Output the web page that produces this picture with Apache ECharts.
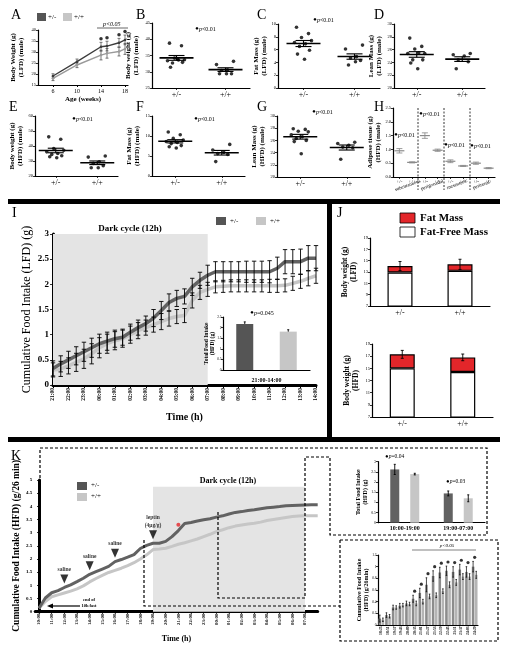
<!DOCTYPE html>
<html><head><meta charset="utf-8">
<script src="https://cdn.jsdelivr.net/npm/echarts@6/dist/echarts.min.js"></script>
<style>html,body{margin:0;padding:0;background:#fff}#c{width:510px;height:651px}</style>
</head><body><div id="c"></div>
<script>
// ================= DATA =================
const genotypes = ['+/-', '+/+'];
// A: body weight over age (LFD)
const aAges = [6, 10, 14, 15, 17, 18];
const aHet = [19.1, 25.6, 32.4, 32.7, 34.2, 35.5];
const aHetErr = [1.0, 1.2, 2.0, 2.2, 2.0, 2.2];
const aWt = [18.0, 24.1, 28.6, 29.4, 30.2, 31.4];
const aWtErr = [1.0, 1.2, 2.2, 2.2, 2.0, 2.5];
const aStarAges = [14, 15, 17, 18];
const aTicks = [6, 10, 14, 18];
// B-G: individual animals
const bHet = [38.8, 38.0, 34.2, 33.7, 33.4, 33.6, 32.7, 32.9, 31.4, 33.9];
const bWt = [33.2, 32.2, 30.6, 30.4, 29.4, 29.4, 29.4];
const cHet = [9.5, 8.5, 7.9, 7.4, 7.1, 6.9, 6.5, 5.9, 5.3, 4.5];
const cWt = [6.7, 6.1, 4.9, 4.7, 4.3, 3.6, 4.1];
const dHet = [27.8, 26.5, 26.1, 25.4, 25.4, 25.5, 24.4, 24.4, 23.9, 23.0];
const dWt = [25.4, 25.2, 25.0, 24.4, 24.1, 23.0];
const eHet = [46.1, 44.5, 38.3, 37.2, 36.1, 35.0, 34.4, 33.5, 32.8, 32.2];
const eWt = [33.3, 32.6, 29.5, 28.4, 26.9, 25.5, 25.5];
const fHet = [11.0, 10.3, 9.4, 9.0, 8.6, 8.4, 8.1, 7.6, 7.3, 7.0];
const fWt = [7.9, 6.5, 5.9, 5.6, 5.4, 3.6];
const gHet = [27.9, 27.8, 27.5, 27.4, 26.9, 26.6, 26.3, 26.0, 25.8, 23.8];
const gWt = [25.7, 25.5, 25.2, 24.9, 24.8, 22.9];
// H: adipose depots
const hCats = ['+/-', '+/+', '+/-', '+/+', '+/-', '+/+', '+/-', '+/+'];
const hGroups = ['subcutaneous', 'perigonadal', 'mesenteric', 'perirenal'];
const hMean = [0.95, 0.53, 1.50, 0.97, 0.57, 0.40, 0.50, 0.32];
const hSem = [0.08, 0.02, 0.10, 0.04, 0.05, 0.02, 0.04, 0.02];
// I: cumulative LFD intake
const iTimes = ["21:00","21:30","22:00","22:30","23:00","23:30","00:00","00:30","01:00","01:30","02:00","02:30","03:00","03:30","04:00","04:30","05:00","05:30","06:00","06:30","07:00","07:30","08:00","08:30","09:00","09:30","10:00","10:30","11:00","11:30","12:00","12:30","13:00","13:30","14:00"];
const iHet = [0.33,0.42,0.50,0.58,0.66,0.74,0.82,0.87,0.92,0.95,1.05,1.14,1.22,1.33,1.48,1.64,1.72,1.76,1.95,2.08,2.18,2.25,2.25,2.25,2.25,2.25,2.25,2.25,2.25,2.32,2.45,2.45,2.45,2.52,2.52];
const iHetErr = [0.15,0.16,0.17,0.18,0.19,0.19,0.19,0.18,0.17,0.16,0.16,0.15,0.15,0.17,0.18,0.17,0.16,0.15,0.17,0.16,0.2,0.2,0.2,0.2,0.2,0.21,0.21,0.21,0.22,0.22,0.24,0.24,0.25,0.25,0.25];
const iWt = [0.30,0.32,0.38,0.45,0.52,0.62,0.74,0.82,0.88,0.92,1.00,1.08,1.14,1.20,1.26,1.32,1.36,1.38,1.68,1.84,1.90,1.95,1.96,1.97,1.97,1.97,1.97,1.97,1.97,1.97,1.98,2.02,2.06,2.12,2.17];
const iWtErr = [0.14,0.15,0.16,0.18,0.19,0.2,0.2,0.19,0.18,0.17,0.17,0.16,0.15,0.15,0.16,0.15,0.14,0.14,0.15,0.14,0.14,0.12,0.12,0.12,0.12,0.12,0.12,0.12,0.13,0.13,0.13,0.14,0.14,0.15,0.15];
const iDark = ['21:00', '07:00'];
const iTotal = [2.17, 1.81];
const iTotalErr = [0.10, 0.09];
// J: body composition
const jLfdLean = [12.9, 13.2];
const jLfdFat = [1.15, 1.15];
const jLfdErr = [0.8, 0.9];
const jHfdLean = [15.0, 14.4];
const jHfdFat = [2.3, 2.4];
const jHfdErr = [0.65, 0.55];
// K: HFD intake after fast (hours after 10:00)
const kHours = [0,0.5,1,1.5,2,2.5,3,3.5,4,4.5,5,5.5,6,6.5,7,7.5,8,8.5,9,9.5,10,10.5,11,11.5,12,12.5,13,13.5,14,14.5,15,15.5,16,16.5,17,17.5,18,18.5,19,19.5,20,20.5,21,21.5,22];
const kHet = [0.13,0.52,0.72,0.80,0.92,1.02,1.14,1.27,1.42,1.52,1.62,1.72,1.90,1.98,2.07,2.17,2.40,2.52,2.60,2.60,2.67,2.85,3.08,3.35,3.39,3.44,3.49,3.53,3.59,3.64,3.71,3.77,3.80,3.84,3.87,3.91,3.95,3.97,3.99,4.02,4.03,4.04,4.05,4.06,4.06];
const kWt = [0.13,0.39,0.57,0.64,0.71,0.78,0.87,0.98,1.13,1.26,1.38,1.49,1.57,1.65,1.75,1.86,2.00,2.16,2.36,2.38,2.41,2.48,2.56,2.62,2.69,2.76,2.85,2.94,3.04,3.11,3.19,3.25,3.29,3.33,3.36,3.40,3.46,3.50,3.54,3.58,3.61,3.63,3.64,3.64,3.64];
const kTickHours = [0,1,2,3,4,5,6,7,8,9,10,11,12,13,14,15,16,17,18,19,20,21];
const kDark = [9, 21];
const kInjHours = [2, 4, 6, 9];
const kInjLabels = ['saline', 'saline', 'saline', 'leptin\n(4μg/g)'];
const kStarHour = 11;
const k1Cats = ['10:00-19:00', '19:00-07:00'];
const k1Het = [2.62, 1.44];
const k1HetErr = [0.25, 0.12];
const k1Wt = [2.39, 1.20];
const k1WtErr = [0.04, 0.17];
const k2Times = ['18:25','18:51','19:17','19:43','20:09','20:35','21:01','21:27','21:53','22:19','22:45','23:11','23:37','24:03','24:29'];
const k2Het = [0.11,0.17,0.30,0.33,0.37,0.45,0.55,0.69,0.84,0.90,0.93,0.91,0.95,0.91,1.00];
const k2HetErr = [0.06,0.04,0.04,0.04,0.04,0.06,0.08,0.12,0.09,0.09,0.08,0.09,0.09,0.09,0.09];
const k2Wt = [0.09,0.15,0.30,0.34,0.36,0.37,0.40,0.49,0.51,0.58,0.69,0.73,0.83,0.83,0.86];
const k2WtErr = [0.03,0.03,0.03,0.03,0.03,0.04,0.04,0.04,0.04,0.04,0.05,0.05,0.05,0.05,0.06];
const k2StarFrom = 5;

// ================= STYLE / BUILD =================
const SERIF = 'Liberation Serif';
const HET = '#626262', WT = '#c6c6c6', RED = '#e3262a', SHADE = '#e4e4e4';
const JIT = [-7, 5, -2, 8, -9, 2, -4, 6, -6, 1];
const grids = [], xAxes = [], yAxes = [], series = [], G = [];

function addGrid(rect, xa, ya) {
  const i = grids.length;
  grids.push(Object.assign({outerBoundsMode: 'none', containLabel: false}, rect));
  xa.gridIndex = i; ya.gridIndex = i;
  xa.nameMoveOverlap = false; ya.nameMoveOverlap = false;
  xAxes.push(xa); yAxes.push(ya);
  return i;
}
function yVal(min, max, interval, name, o = {}) {
  return {type: 'value', min, max, interval, name, nameLocation: 'middle', nameGap: o.nameGap || 14,
    nameTextStyle: {fontFamily: SERIF, fontSize: o.nameSize || 7, fontWeight: 'bold', color: '#000', lineHeight: (o.nameSize || 7) + 1},
    axisLine: {show: true, lineStyle: {color: '#000', width: o.lw || 1.2}},
    axisTick: {show: true, length: o.tickLen || 2, lineStyle: {color: '#000', width: 0.8}},
    axisLabel: Object.assign({fontSize: o.labelSize || 4.5, color: '#000', margin: o.labelMargin || 2, fontFamily: SERIF, fontWeight: o.labelBold ? 'bold' : 'normal'}, o.labelExtra || {}),
    splitLine: {show: false}};
}
function xCat(data, o = {}) {
  return Object.assign({type: 'category', data, boundaryGap: o.boundaryGap !== undefined ? o.boundaryGap : true,
    axisLine: {show: true, lineStyle: {color: '#000', width: o.lw || 1.2}},
    axisTick: {show: o.tick !== undefined ? o.tick : true, alignWithLabel: true, length: 2, lineStyle: {color: '#000', width: 0.8}},
    axisLabel: Object.assign({fontSize: o.labelSize || 8, color: '#000', fontFamily: SERIF, margin: o.labelMargin || 3}, o.labelExtra || {}),
    splitLine: {show: false}}, o.extra || {});
}
function mean(a) { return a.reduce((s, v) => s + v, 0) / a.length; }
function sem(a) { const m = mean(a); return Math.sqrt(a.reduce((s, v) => s + (v - m) * (v - m), 0) / (a.length - 1)) / Math.sqrt(a.length); }

function errRender(cap, color, lw, dx) {
  return function (params, api) {
    const x = api.value(0), y = api.value(1), e = api.value(2);
    const t = api.coord([x, y + e]), b = api.coord([x, y - e]);
    const px = t[0] + (dx || 0);
    const st = {stroke: color, lineWidth: lw};
    return {type: 'group', children: [
      {type: 'line', shape: {x1: px, y1: t[1], x2: px, y2: b[1]}, style: st},
      {type: 'line', shape: {x1: px - cap, y1: t[1], x2: px + cap, y2: t[1]}, style: st},
      {type: 'line', shape: {x1: px - cap, y1: b[1], x2: px + cap, y2: b[1]}, style: st}
    ]};
  };
}
function meanGlyph(halfW, cap, color, lw) {
  return function (params, api) {
    const x = api.value(0), m = api.value(1), s = api.value(2);
    const c = api.coord([x, m]), t = api.coord([x, m + s]), b = api.coord([x, m - s]);
    const st = {stroke: color, lineWidth: lw};
    return {type: 'group', children: [
      {type: 'line', shape: {x1: c[0] - halfW, y1: c[1], x2: c[0] + halfW, y2: c[1]}, style: st},
      {type: 'line', shape: {x1: c[0] - cap, y1: t[1], x2: c[0] + cap, y2: t[1]}, style: {stroke: color, lineWidth: lw * 0.7}},
      {type: 'line', shape: {x1: c[0] - cap, y1: b[1], x2: c[0] + cap, y2: b[1]}, style: {stroke: color, lineWidth: lw * 0.7}},
      {type: 'line', shape: {x1: c[0], y1: t[1], x2: c[0], y2: b[1]}, style: {stroke: color, lineWidth: lw * 0.7}}
    ]};
  };
}
function dotPanel(rect, min, max, interval, name, het, wt, nameGap) {
  const g = addGrid(rect, xCat(genotypes), yVal(min, max, interval, name, {nameGap: nameGap || 14}));
  const pts = het.map((v, i) => ({value: [0, v], symbolOffset: [JIT[i % JIT.length], 0]}))
    .concat(wt.map((v, i) => ({value: [1, v], symbolOffset: [JIT[(i + 3) % JIT.length], 0]})));
  series.push({type: 'scatter', xAxisIndex: g, yAxisIndex: g, symbolSize: 3.6, itemStyle: {color: '#000'}, data: pts, silent: true});
  series.push({type: 'custom', xAxisIndex: g, yAxisIndex: g, renderItem: meanGlyph(17, 8, '#000', 1.6),
    encode: {x: 0, y: 1}, data: [[0, mean(het), sem(het)], [1, mean(wt), sem(wt)]], silent: true});
  return g;
}
function txt(x, y, t, size, o = {}) {
  G.push({type: 'text', x, y, rotation: o.rot || 0, z: 100, silent: true,
    style: {text: t, fontFamily: SERIF, fontSize: size, fontWeight: o.bold ? 'bold' : 'normal', fontStyle: o.italic ? 'italic' : 'normal',
      fill: o.color || '#000', textAlign: o.align || 'left', textVerticalAlign: o.va || 'middle', lineHeight: o.lh || size + 1}});
}
function ptxt(x, y, s, size) {
  G.push({type: 'text', x, y, z: 100, silent: true, style: {text: '{b|•}{i|p}{n|' + s + '}', fontFamily: SERIF, fontSize: size, fill: '#000', textVerticalAlign: 'middle',
    rich: {b: {fontSize: size * 1.9, fontFamily: SERIF, fill: '#000'}, i: {fontStyle: 'italic', fontSize: size, fontFamily: SERIF, fill: '#000'}, n: {fontSize: size, fontFamily: SERIF, fill: '#000'}}}});
}
function rect(x, y, w, h, fill, stroke, lw) {
  G.push({type: 'rect', z: 100, silent: true, shape: {x, y, width: w, height: h}, style: {fill, stroke: stroke || null, lineWidth: lw || 1}});
}
function line(x1, y1, x2, y2, lw, dash) {
  G.push({type: 'line', z: 100, silent: true, shape: {x1, y1, x2, y2}, style: {stroke: '#000', lineWidth: lw || 1, lineDash: dash || null}});
}
function poly(points, lw, dash) {
  G.push({type: 'polyline', z: 100, silent: true, shape: {points}, style: {stroke: '#000', fill: null, lineWidth: lw || 1, lineDash: dash || null}});
}

// ---------- Panel A ----------
(function () {
  const xa = {type: 'value', min: 3.5, max: 18.5, name: 'Age (weeks)', nameLocation: 'middle', nameGap: 11,
    nameTextStyle: {fontFamily: SERIF, fontSize: 7, fontWeight: 'bold', color: '#000'},
    axisLine: {lineStyle: {color: '#000', width: 1.2}}, splitLine: {show: false},
    axisTick: {customValues: aTicks, length: 2, lineStyle: {color: '#000'}},
    axisLabel: {customValues: aTicks, fontSize: 6, color: '#000', fontFamily: SERIF, margin: 3}};
  const g = addGrid({left: 38, top: 30, width: 90, height: 55}, xa, yVal(15, 40, 5, 'Body Weight (g)\n(LFD) (male)', {nameGap: 13}));
  series.push({type: 'line', xAxisIndex: g, yAxisIndex: g, data: aAges.map((a, i) => [a, aWt[i]]), symbol: 'circle', symbolSize: 2.5,
    lineStyle: {color: '#9a9a9a', width: 1.4}, itemStyle: {color: '#9a9a9a'}, silent: true});
  series.push({type: 'line', xAxisIndex: g, yAxisIndex: g, data: aAges.map((a, i) => [a, aHet[i]]), symbol: 'circle', symbolSize: 2.5,
    lineStyle: {color: '#3c3c3c', width: 1.4}, itemStyle: {color: '#3c3c3c'}, silent: true});
  series.push({type: 'custom', xAxisIndex: g, yAxisIndex: g, renderItem: errRender(1.5, '#444', 0.7), encode: {x: 0, y: 1},
    data: aAges.map((a, i) => [a, aWt[i], aWtErr[i]]).concat(aAges.map((a, i) => [a, aHet[i], aHetErr[i]])), silent: true});
  series.push({type: 'scatter', xAxisIndex: g, yAxisIndex: g, symbolSize: 3.5, itemStyle: {color: '#000'}, silent: true,
    data: aStarAges.map(a => { const i = aAges.indexOf(a); return [a, aHet[i] + aHetErr[i] + 1.6]; })});
})();
dotPanel({left: 152, top: 23, width: 98, height: 65}, 25, 45, 5, 'Body weight (g)\n(LFD) (male)', bHet, bWt, 12);
dotPanel({left: 278, top: 24, width: 102, height: 64}, 0, 10, 2, 'Fat Mass (g)\n(LFD) (male)', cHet, cWt, 10);
dotPanel({left: 394, top: 24, width: 91, height: 64}, 20, 30, 2, 'Lean Mass (g)\n(LFD) (male)', dHet, dWt, 11);
dotPanel({left: 35, top: 116, width: 83, height: 60}, 20, 60, 10, 'Body weight (g)\n(HFD) (male)', eHet, eWt, 11);
dotPanel({left: 152, top: 116, width: 93, height: 60}, 0, 15, 5, 'Fat Mass (g)\n(HFD) (male)', fHet, fWt, 11);
dotPanel({left: 277, top: 116, width: 93, height: 61}, 20, 30, 2, 'Lean Mass (g)\n(HFD) (male)', gHet, gWt, 11);

// ---------- Panel H ----------
(function () {
  const g = addGrid({left: 393, top: 108, width: 102, height: 69}, xCat(hCats, {labelSize: 5, labelMargin: 2}),
    yVal(0, 2.5, 0.5, 'Adipose tissue (g)\n(HFD) (male)', {nameGap: 11, labelExtra: {formatter: v => v.toFixed(1)}}));
  series.push({type: 'custom', xAxisIndex: g, yAxisIndex: g, renderItem: meanGlyph(5, 3, '#8a8a8a', 1.2), encode: {x: 0, y: 1},
    data: hMean.map((m, i) => [i, m, hSem[i]]), silent: true});
})();

// ---------- Panel I ----------
(function () {
  const xa = xCat(iTimes, {boundaryGap: false, lw: 3, labelSize: 5.5,
    labelExtra: {rotate: 90, interval: 1, fontWeight: 'bold', margin: 3},
    extra: {name: 'Time (h)', nameLocation: 'middle', nameGap: 27, nameTextStyle: {fontFamily: SERIF, fontSize: 10, fontWeight: 'bold', color: '#000'}}});
  xa.axisTick = {show: true, interval: 1, length: 3, lineStyle: {color: '#000', width: 1}};
  const ya = yVal(0, 3, 0.5, 'Cumulative Food Intake (LFD) (g)', {nameGap: 20, nameSize: 12, lw: 3, labelSize: 9, labelBold: true, tickLen: 3, labelMargin: 4});
  ya.nameTextStyle.fontWeight = 'normal';
  const g = addGrid({left: 53, top: 234, width: 263, height: 151}, xa, ya);
  series.push({type: 'line', xAxisIndex: g, yAxisIndex: g, data: iWt, symbol: 'none', lineStyle: {color: WT, width: 3.5}, silent: true, z: 3,
    markArea: {silent: true, itemStyle: {color: SHADE}, data: [[{xAxis: iDark[0]}, {xAxis: iDark[1]}]]}});
  series.push({type: 'line', xAxisIndex: g, yAxisIndex: g, data: iHet, symbol: 'none', lineStyle: {color: HET, width: 3.5}, silent: true, z: 3});
  series.push({type: 'custom', xAxisIndex: g, yAxisIndex: g, renderItem: errRender(2.2, '#000', 0.9), encode: {x: 0, y: 1}, z: 4,
    data: iWt.map((v, i) => [i, v, iWtErr[i]]).concat(iHet.map((v, i) => [i, v, iHetErr[i]])), silent: true});
  // inset
  const xa2 = xCat(genotypes, {tick: false, labelExtra: {show: false},
    extra: {z: 10, name: '21:00-14:00', nameLocation: 'middle', nameGap: 7, nameTextStyle: {fontFamily: SERIF, fontSize: 6, fontWeight: 'bold', color: '#000'}}});
  const ya2 = yVal(0, 2.5, 0.5, 'Total Food Intake\n(HFD) (g)', {nameGap: 7, nameSize: 5.5, labelSize: 3.5, labelMargin: 1.5});
  ya2.z = 10;
  const g2 = addGrid({left: 223, top: 317, width: 87, height: 53}, xa2, ya2);
  series.push({type: 'bar', xAxisIndex: g2, yAxisIndex: g2, barWidth: 17, silent: true,
    data: iTotal.map((v, i) => ({value: v, itemStyle: {color: i === 0 ? '#555' : WT}}))});
  series.push({type: 'custom', xAxisIndex: g2, yAxisIndex: g2, renderItem: errRender(1, '#000', 0.9), encode: {x: 0, y: 1},
    data: iTotal.map((v, i) => [i, v, iTotalErr[i]]), silent: true});
})();

// ---------- Panel J ----------
function jPanel(rect, lean, fat, err, name) {
  const xa = xCat(genotypes, {tick: false, labelSize: 8, labelMargin: 3});
  const g = addGrid(rect, xa, yVal(7, 19, 2, name, {nameGap: 12, nameSize: 7.5, labelSize: 4.5}));
  series.push({type: 'bar', xAxisIndex: g, yAxisIndex: g, stack: 'j' + g, barWidth: 25, data: lean, silent: true,
    itemStyle: {color: '#fff', borderColor: '#000', borderWidth: 1.2}});
  series.push({type: 'bar', xAxisIndex: g, yAxisIndex: g, stack: 'j' + g, barWidth: 25, data: fat, silent: true,
    itemStyle: {color: RED, borderColor: '#000', borderWidth: 1.2}});
  series.push({type: 'custom', xAxisIndex: g, yAxisIndex: g, renderItem: errRender(1.5, '#000', 0.9), encode: {x: 0, y: 1},
    data: lean.map((v, i) => [i, v + fat[i], err[i]]), silent: true, z: 5});
}
jPanel({left: 370, top: 238, width: 120, height: 68}, jLfdLean, jLfdFat, jLfdErr, 'Body weight (g)\n(LFD)');
jPanel({left: 372, top: 344, width: 121, height: 73}, jHfdLean, jHfdFat, jHfdErr, 'Body weight (g)\n(HFD)');

// ---------- Panel K ----------
const clock = h => { const hh = (10 + h) % 24; return (hh < 10 ? '0' : '') + hh + ':00'; };
(function () {
  const xa = {type: 'value', min: -0.3, max: 22, name: 'Time (h)', nameLocation: 'middle', nameGap: 23,
    nameTextStyle: {fontFamily: SERIF, fontSize: 8, fontWeight: 'bold', color: '#000'},
    axisLine: {lineStyle: {color: '#000', width: 3}}, splitLine: {show: false},
    axisTick: {customValues: kTickHours, length: 2, lineStyle: {color: '#000'}},
    axisLabel: {customValues: kTickHours, formatter: clock, rotate: 90, fontSize: 4.8, fontWeight: 'bold', color: '#000', fontFamily: SERIF, margin: 2}};
  const ya = yVal(0, 5, 0.5, 'Cumulative Food Intake (HFD) (g/26 min)', {nameGap: 13, nameSize: 9.5, lw: 3, labelSize: 5, labelBold: true, labelMargin: 3});
  const g = addGrid({left: 35.2, top: 480, width: 282.5, height: 131.7}, xa, ya);
  series.push({type: 'line', xAxisIndex: g, yAxisIndex: g, data: kHours.map((h, i) => [h, kWt[i]]), symbol: 'none', lineStyle: {color: WT, width: 3}, silent: true,
    markArea: {silent: true, itemStyle: {color: SHADE}, data: [[{xAxis: kDark[0], yAxis: 0}, {xAxis: kDark[1], yAxis: 4.74}]]}});
  series.push({type: 'line', xAxisIndex: g, yAxisIndex: g, data: kHours.map((h, i) => [h, kHet[i]]), symbol: 'none', lineStyle: {color: HET, width: 3}, silent: true});
  series.push({type: 'scatter', xAxisIndex: g, yAxisIndex: g, symbol: 'triangle', symbolRotate: 180, symbolSize: [8, 9], itemStyle: {color: '#000'}, silent: true,
    data: kInjHours.map((h, j) => ({value: [h, kHet[kHours.indexOf(h)] + 0.32],
      label: {show: true, position: 'top', distance: 1, formatter: kInjLabels[j], fontFamily: SERIF, fontSize: 5.5, fontWeight: 'bold', color: '#000', lineHeight: 8}}))});
  series.push({type: 'scatter', xAxisIndex: g, yAxisIndex: g, symbolSize: 4, itemStyle: {color: RED}, silent: true,
    data: [[kStarHour, kHet[kHours.indexOf(kStarHour)] + 0.22]]});
  // inset 1
  const g1 = addGrid({left: 378, top: 461.7, width: 107, height: 61}, xCat(k1Cats, {tick: false, labelSize: 6, labelMargin: 3, labelExtra: {fontWeight: 'bold'}}),
    yVal(0, 3, 0.5, 'Total Food Intake\n(HFD) (g)', {nameGap: 9, nameSize: 6, labelSize: 3.8}));
  series.push({type: 'bar', xAxisIndex: g1, yAxisIndex: g1, barWidth: 9, barGap: '122%', data: k1Het, itemStyle: {color: HET}, silent: true});
  series.push({type: 'bar', xAxisIndex: g1, yAxisIndex: g1, barWidth: 9, barGap: '122%', data: k1Wt, itemStyle: {color: WT}, silent: true});
  series.push({type: 'custom', xAxisIndex: g1, yAxisIndex: g1, renderItem: errRender(1, '#000', 0.9, -10), encode: {x: 0, y: 1},
    data: k1Het.map((v, i) => [i, v, k1HetErr[i]]), silent: true, z: 5});
  series.push({type: 'custom', xAxisIndex: g1, yAxisIndex: g1, renderItem: errRender(1, '#000', 0.9, 10), encode: {x: 0, y: 1},
    data: k1Wt.map((v, i) => [i, v, k1WtErr[i]]), silent: true, z: 5});
  // inset 2
  const g2 = addGrid({left: 378, top: 555, width: 100, height: 70}, xCat(k2Times, {tick: false, labelSize: 3.6, labelMargin: 1.5, labelExtra: {rotate: 90, interval: 0, fontWeight: 'bold'}}),
    yVal(0, 1.2, 0.2, 'Cumulative Food Intake\n(HFD) (g/26min)', {nameGap: 8, nameSize: 6, labelSize: 3.5, labelMargin: 1.5, labelExtra: {formatter: v => (Math.round(v * 10) / 10).toString()}}));
  series.push({type: 'bar', xAxisIndex: g2, yAxisIndex: g2, barWidth: 2.6, barGap: '20%', data: k2Het, itemStyle: {color: '#8c8c8c'}, silent: true});
  series.push({type: 'bar', xAxisIndex: g2, yAxisIndex: g2, barWidth: 2.6, barGap: '20%', data: k2Wt, itemStyle: {color: '#b4b4b4'}, silent: true});
  series.push({type: 'custom', xAxisIndex: g2, yAxisIndex: g2, renderItem: errRender(0.8, '#000', 0.7, -1.56), encode: {x: 0, y: 1},
    data: k2Het.map((v, i) => [i, v, k2HetErr[i]]), silent: true, z: 5});
  series.push({type: 'custom', xAxisIndex: g2, yAxisIndex: g2, renderItem: errRender(0.8, '#000', 0.7, 1.56), encode: {x: 0, y: 1},
    data: k2Wt.map((v, i) => [i, v, k2WtErr[i]]), silent: true, z: 5});
  series.push({type: 'scatter', xAxisIndex: g2, yAxisIndex: g2, symbolSize: 3.2, itemStyle: {color: '#000'}, silent: true,
    data: k2Het.map((v, i) => [i, v + k2HetErr[i] + 0.07]).filter((d, i) => i >= k2StarFrom)});
})();

// ---------- Decorations ----------
[['A', 11, 15], ['B', 136, 15], ['C', 257, 15], ['D', 374, 15], ['E', 9, 107], ['F', 136, 107], ['G', 257, 107], ['H', 374, 107], ['I', 12, 213], ['J', 337, 213], ['K', 11, 456]]
  .forEach(d => txt(d[1], d[2], d[0], 14));
rect(37, 13, 9, 8, '#555'); txt(48, 17, '+/-', 7);
rect(63, 13, 9, 8, WT); txt(74, 17, '+/+', 7);
txt(103, 24, 'p<0.05', 6, {italic: true}); line(97, 28, 128, 28, 0.6);
ptxt(195, 29, '<0.01', 6);
ptxt(313, 20, '<0.01', 6);
ptxt(72, 119, '<0.01', 6);
ptxt(194, 119, '<0.01', 6);
ptxt(312, 112, '<0.01', 6);
ptxt(394, 135, '<0.01', 6);
ptxt(419, 114, '<0.01', 6);
ptxt(444, 145, '<0.01', 6);
ptxt(470, 146, '<0.01', 6);
[418, 444, 470].forEach(x => line(x, 108, x, 190, 0.8, [2, 1.5]));
[[395, 190], [421, 189], [447, 188], [473, 188]].forEach((p, i) => txt(p[0], p[1], hGroups[i], 5, {rot: 0.35}));
rect(8, 199, 492, 5, '#000');
rect(327, 199, 5, 243, '#000');
rect(8, 437, 492, 5, '#000');
txt(130, 229, 'Dark cycle (12h)', 9, {bold: true, align: 'center'});
rect(216, 217, 10, 8, '#555'); txt(230, 221, '+/-', 7);
rect(256, 217, 10, 8, WT); txt(270, 221, '+/+', 7);
ptxt(250, 313, '=0.045', 6);
rect(400, 213, 15, 10, RED, '#000', 0.8); txt(420, 218, 'Fat Mass', 11, {bold: true});
rect(400, 227, 15, 10, '#fff', '#000', 0.8); txt(420, 232, 'Fat-Free Mass', 11, {bold: true});
txt(228, 481, 'Dark cycle (12h)', 8, {bold: true, align: 'center'});
rect(77, 482, 10, 8, '#555'); txt(91, 485, '+/-', 7);
rect(77, 493, 10, 8, WT); txt(91, 496, '+/+', 7);
txt(89, 600, 'end of', 4.5, {bold: true, align: 'center'});
txt(89, 606, '10h fast', 4.5, {bold: true, align: 'center'});
line(52, 606, 80, 606, 1.2);
G.push({type: 'polygon', z: 100, silent: true, shape: {points: [[47, 606], [53, 603.5], [53, 608.5]]}, style: {fill: '#000'}});
ptxt(385, 457, '=0.04', 5.5);
ptxt(446, 482, '=0.03', 5.5);
txt(447, 546, 'p<0.05', 5, {italic: true, align: 'center'}); line(412, 550, 476, 550, 0.5);
const D = [3, 2];
poly([[40, 478], [40, 448], [487, 448], [487, 535], [330, 535], [330, 457], [305, 457], [305, 598], [218, 598], [218, 511]], 1.2, D);
poly([[144, 540], [144, 606], [340, 606]], 1.2, D);
poly([[340, 540], [498, 540], [498, 641], [340, 641], [340, 540]], 1.2, D);

const chart = echarts.init(document.getElementById('c'), null, {renderer: 'canvas'});
chart.setOption({
  animation: false, backgroundColor: '#fff',
  textStyle: {fontFamily: SERIF},
  grid: grids, xAxis: xAxes, yAxis: yAxes, series, graphic: G
});
</script></body></html>
